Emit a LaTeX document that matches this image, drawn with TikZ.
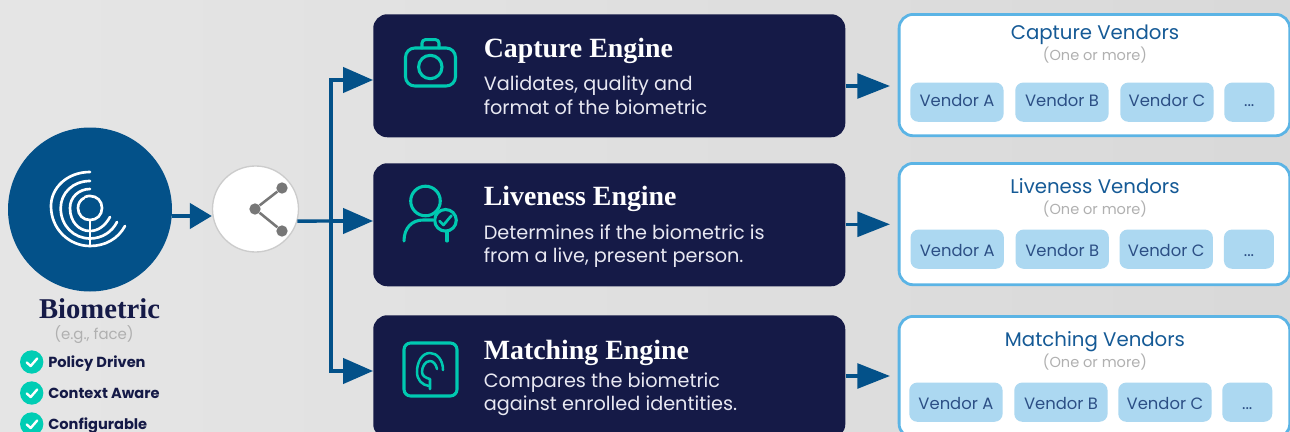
\documentclass[tikz,border=0pt]{standalone}
\usepackage{fontspec}
\setmainfont{Poppins}
\newfontfamily\headfont{Liberation Serif}
\usetikzlibrary{arrows.meta,calc}
\definecolor{navy}{HTML}{151A47}
\definecolor{deepblue}{HTML}{035189}
\definecolor{teal}{HTML}{00C9B1}
\definecolor{checkteal}{HTML}{00CDB4}
\definecolor{skyline}{HTML}{5BB4E5}
\definecolor{vendorfill}{HTML}{ACD8F1}
\definecolor{vendortext}{HTML}{2C4F85}
\definecolor{titleblue}{HTML}{155A96}
\definecolor{softgray}{HTML}{B0B0B0}
\definecolor{sharegray}{HTML}{777777}
\definecolor{bodytext}{HTML}{E8E8F2}
\tikzset{
  x=0.75pt,y=-0.75pt,
  engine/.style={rectangle,rounded corners=10.5pt,fill=navy,minimum width=354pt,inner sep=0pt,anchor=north west},
  vendorpanel/.style={rectangle,rounded corners=10.5pt,draw=skyline,line width=2.1pt,fill=white,minimum width=293pt,minimum height=91pt,inner sep=0pt,anchor=north west},
  vendorbox/.style={rectangle,rounded corners=6pt,fill=vendorfill,text=vendortext,minimum height=29.4pt,inner sep=0pt,anchor=north west,text height=10.5pt,text depth=0pt,font=\fontsize{12.3}{14}\selectfont},
  vendorA/.style={vendorbox,minimum width=70pt},
  vendorM/.style={vendorbox,minimum width=37.5pt},
  raised/.style={text height=6pt},
  conn/.style={draw=deepblue,line width=2.6pt},
  arrowconn/.style={conn,-{Triangle[length=22.5pt,width=19pt]}},
  smallarrow/.style={conn,-{Triangle[length=24.4pt,width=18.5pt]},shorten >=5.8pt},
  headtext/.style={anchor=base west,text=white,inner sep=0pt,font=\headfont\bfseries\fontsize{20.9}{24}\selectfont},
  bodyline/.style={anchor=base west,text=bodytext,inner sep=0pt,font=\fontsize{14.45}{17}\selectfont},
  paneltitle/.style={anchor=base,text=titleblue,inner sep=0pt,font=\fontsize{14.8}{17}\selectfont},
  panelnote/.style={anchor=base,text=softgray,inner sep=0pt,font=\fontsize{10.9}{13}\selectfont},
  checklabel/.style={anchor=base west,text=navy,inner sep=0pt,font=\bfseries\fontsize{10.95}{13}\selectfont},
  checkdot/.style={circle,fill=checkteal,minimum size=17.5pt,inner sep=0pt},
  checkmark/.style={draw=white,line width=1.8pt,line cap=round,line join=round},
  iconline/.style={draw=teal,line width=2.3pt,line cap=round,line join=round},
  printline/.style={draw=white,line width=2pt,line cap=round},
  sharedot/.style={circle,fill=sharegray,minimum size=8.5pt,inner sep=0pt},
}
\begin{document}
\begin{tikzpicture}
\useasboundingbox (0,0) rectangle (1290,432);
\clip (0,0) rectangle (1290,432);
\shade[left color=black!10,right color=black!15] (0,0) rectangle (1290,432);

% biometric
\node[circle,fill=deepblue,minimum size=123pt,inner sep=0pt] (bio) at (90,209.5) {};
\node[circle,fill=white,draw=black!20,line width=1pt,minimum size=64.5pt,inner sep=0pt] (share) at (255.5,209) {};
\draw[printline] (85,197) .. controls (87,196) and (88.5,196) .. (90,196) .. controls (97,196) and (102,201) .. (102,208) .. controls (102,215) and (97,220) .. (90,220) .. controls (83,220) and (78,215) .. (78,208) .. controls (78,204) and (80,200) .. (84,198);
\draw[printline] (90,189) .. controls (79,189) and (70,197) .. (70,208) .. controls (70,222) and (79,231) .. (90,231) .. controls (98,231) and (105,226) .. (110,217);
\draw[printline] (90,181) .. controls (73,181) and (60.7,193) .. (60.7,208) .. controls (60.7,226) and (74,238.5) .. (90,238.5) .. controls (102,238.5) and (112,232) .. (117,222);
\draw[printline] (90,172) .. controls (67,172) and (51,188) .. (51,206) .. controls (51,229) and (69,246) .. (90,246) .. controls (105,246) and (118,239) .. (125,226);
\draw[printline] (90,220) -- (90,246);

\node[anchor=base,text=navy,inner sep=0pt,font=\headfont\bfseries\fontsize{21.5}{25}\selectfont] (biolabel) at (99.5,318) {Biometric};
\node[anchor=base,text=softgray,inner sep=0pt,font=\fontsize{11.2}{13}\selectfont] (bionote) at (94,339) {(e.g., face)};

\foreach \n/\yy/\txt in {a/362/Policy Driven,b/393/Context Aware,c/424/Configurable}{
  \node[checkdot] (chk\n) at (31.7,\yy) {};
  \draw[checkmark] ($(chk\n)+(-5,0.5)$) -- ($(chk\n)+(-1,4)$) -- ($(chk\n)+(5.5,-3.5)$);
  \node[checklabel] (lab\n) at (48,\yy+5) {\txt};
}

% share glyph
\node[sharedot] (hub) at (255,209) {};
\node[sharedot] (top) at (282,188) {};
\node[sharedot] (bot) at (282,231) {};
\draw[sharegray,line width=1.9pt] (hub) -- (top);
\draw[sharegray,line width=1.9pt] (hub) -- (bot);

% engines
\node[engine,minimum height=92.25pt] (e1) at (373,14) {};
\node[engine,minimum height=92.25pt] (e2) at (373,163) {};
\node[engine,minimum height=92.25pt] (e3) at (373,315) {};

\node[headtext] (h1) at (483.5,57) {Capture Engine};
\node[bodyline] (b1a) at (483.5,90) {Validates, quality and};
\node[bodyline] (b1b) at (483.5,114) {format of the biometric};
\node[headtext] (h2) at (483.5,205) {Liveness Engine};
\node[bodyline] (b2a) at (483.5,239) {Determines if the biometric is};
\node[bodyline] (b2b) at (483.5,262) {from a live, present person.};
\node[headtext] (h3) at (483.5,359) {Matching Engine};
\node[bodyline] (b3a) at (483.5,387) {Compares the biometric};
\node[bodyline] (b3b) at (483.5,410) {against enrolled identities.};

% camera icon
\draw[iconline,rounded corners=7pt] (405.5,48) rectangle (455.5,86);
\draw[iconline,rounded corners=2.5pt] (422,48) -- (422,39.7) -- (439,39.7) -- (439,48);
\draw[iconline] (430.3,67) circle[radius=11.7];
% person icon
\draw[iconline] (425.5,201) circle[radius=14.8];
\draw[iconline] (404,241) .. controls (404,228) and (412,220) .. (423,220) -- (433,220);
\draw[iconline] (445.5,220.3) circle[radius=10.8];
\draw[iconline,line width=2pt] (439.5,221) -- (443.5,225) -- (451.5,215.5);
\draw[iconline] (447,232) -- (447,241);
% print-in-square icon
\draw[iconline,rounded corners=5pt] (404,343) rectangle (457,396);
\draw[iconline,line width=1.9pt] (443,370) .. controls (443,360) and (437,353) .. (430,353) .. controls (422,353) and (417,362) .. (417,372) .. controls (417,380) and (422,385) .. (429,386);
\draw[iconline,line width=1.9pt] (437,369) .. controls (436,364) and (433,361) .. (430,361) .. controls (425,361) and (422,367) .. (422,372) .. controls (422,376) and (426,378) .. (430,379) -- (430,389);

% vendor panels
\node[vendorpanel] (p1) at (897.7,13) {};
\node[vendorpanel] (p2) at (897.7,162) {};
\node[vendorpanel] (p3) at (897.7,315) {};

\node[paneltitle] (t1) at (1095,40) {Capture Vendors};
\node[panelnote] (n1) at (1095,60.7) {(One or more)};
\node[paneltitle] (t2) at (1095,193.3) {Liveness Vendors};
\node[panelnote] (n2) at (1095,214) {(One or more)};
\node[paneltitle] (t3) at (1095,346.7) {Matching Vendors};
\node[panelnote] (n3) at (1095,367.3) {(One or more)};

\node[vendorA,raised] (v1a) at (910,82.3) {Vendor A};
\node[vendorA,raised] (v1b) at (1015,82.3) {Vendor B};
\node[vendorA,raised] (v1c) at (1120,82.3) {Vendor C};
\node[vendorM,raised] (v1d) at (1224,82.3) {...};
\node[vendorA] (v2a) at (910.3,229.3) {Vendor A};
\node[vendorA] (v2b) at (1015.3,229.3) {Vendor B};
\node[vendorA] (v2c) at (1119.3,229.3) {Vendor C};
\node[vendorM] (v2d) at (1223.7,229.3) {...};
\node[vendorA] (v3a) at (909,382.3) {Vendor A};
\node[vendorA] (v3b) at (1014,382.3) {Vendor B};
\node[vendorA] (v3c) at (1118,382.3) {Vendor C};
\node[vendorM] (v3d) at (1222,382.3) {...};

% connectors
\coordinate (trunk) at (331,221);
\draw[conn,-{Triangle[length=16.5pt,width=19pt]}] (bio.east |- 0,216) -- (share.west |- 0,216);
\draw[conn] (share.-16) -- (trunk);
\draw[arrowconn] (trunk) |- (e1.west |- 0,80);
\draw[arrowconn] (trunk) -- (e2.west |- trunk);
\draw[arrowconn] (trunk) |- (e3.west |- 0,371);
\draw[smallarrow] (e1.east |- 0,86) -- (p1.west |- 0,86);
\draw[smallarrow] (e2.east |- 0,224.3) -- (p2.west |- 0,224.3);
\draw[smallarrow] (e3.east |- 0,376) -- (p3.west |- 0,376);
\end{tikzpicture}
\end{document}
